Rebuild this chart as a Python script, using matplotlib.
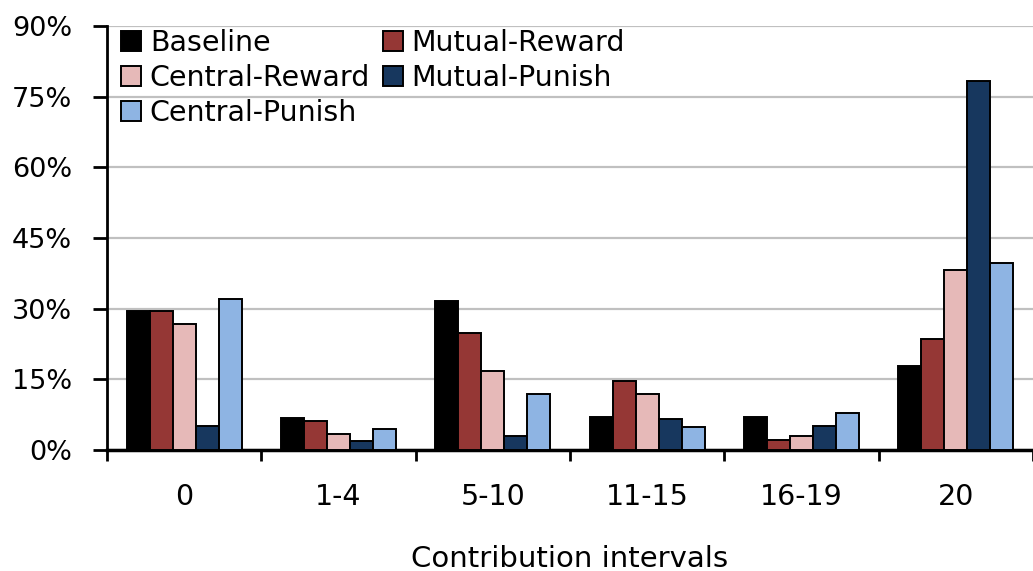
import matplotlib
matplotlib.use("Agg")
import matplotlib.pyplot as plt
import numpy as np
from matplotlib.ticker import FixedLocator, PercentFormatter

categories = ["0", "1-4", "5-10", "11-15", "16-19", "20"]
series_names = ["Baseline", "Mutual-Reward", "Central-Reward", "Mutual-Punish", "Central-Punish"]
baseline = [29.4, 6.7, 31.6, 7.1, 7.1, 17.9]
mutual_reward = [29.4, 6.1, 24.9, 14.6, 2.1, 23.5]
central_reward = [26.7, 3.5, 16.8, 11.9, 3.0, 38.3]
mutual_punish = [5.2, 1.9, 3.0, 6.6, 5.2, 78.4]
central_punish = [32.0, 4.4, 11.9, 4.8, 7.9, 39.6]
yticks = [0, 15, 30, 45, 60, 75, 90]

series = [baseline, mutual_reward, central_reward, mutual_punish, central_punish]
colors = ["#000000", "#953735", "#E6B9B8", "#17375E", "#8EB4E3"]

plt.rcParams['font.family'] = ['DejaVu Sans']
fig = plt.figure(figsize=(10.33, 5.71), dpi=100)
ax = fig.add_axes([0.1036, 0.2119, 0.8964, 0.7426])

x = np.arange(len(categories))
w = 0.149
handles = []
for i, (vals, c, name) in enumerate(zip(series, colors, series_names)):
    b = ax.bar(x + (i - 2) * w, vals, width=w, color=c, edgecolor="black",
               linewidth=1.4, label=name, zorder=3)
    handles.append(b)

ax.set_xlim(-0.5, 5.5)
ax.set_ylim(0, 90)
ax.set_yticks(yticks)
ax.yaxis.set_major_formatter(PercentFormatter(decimals=0))
ax.yaxis.grid(True, color="#c0c0c0", linewidth=1.6, zorder=0)
ax.set_axisbelow(True)

ax.set_xticks(x)
ax.set_xticklabels(categories)
ax.xaxis.set_minor_locator(FixedLocator(np.arange(-0.5, 6.0, 1.0)))
ax.tick_params(axis="x", which="major", length=0, pad=24, labelsize=20.5)
ax.tick_params(axis="x", which="minor", length=8, width=2, direction="out")
ax.tick_params(axis="y", which="major", length=10, width=2, direction="out", pad=15, labelsize=19.5)

for s in ["top", "right"]:
    ax.spines[s].set_visible(False)
ax.spines["left"].set_linewidth(2)
ax.spines["bottom"].set_linewidth(2.5)

ax.set_xlabel("Contribution intervals", fontsize=21, labelpad=24)

order = [0, 2, 4, 1, 3]
leg = ax.legend([handles[k] for k in order], [series_names[k] for k in order],
                ncol=2, frameon=False, fontsize=20.5, loc="upper left",
                bbox_to_anchor=(-0.006, 1.04), handlelength=0.7, handleheight=0.7,
                handletextpad=0.3, columnspacing=0.45, labelspacing=0.24,
                borderaxespad=0.3)

fig.savefig("out.png", dpi=100)
